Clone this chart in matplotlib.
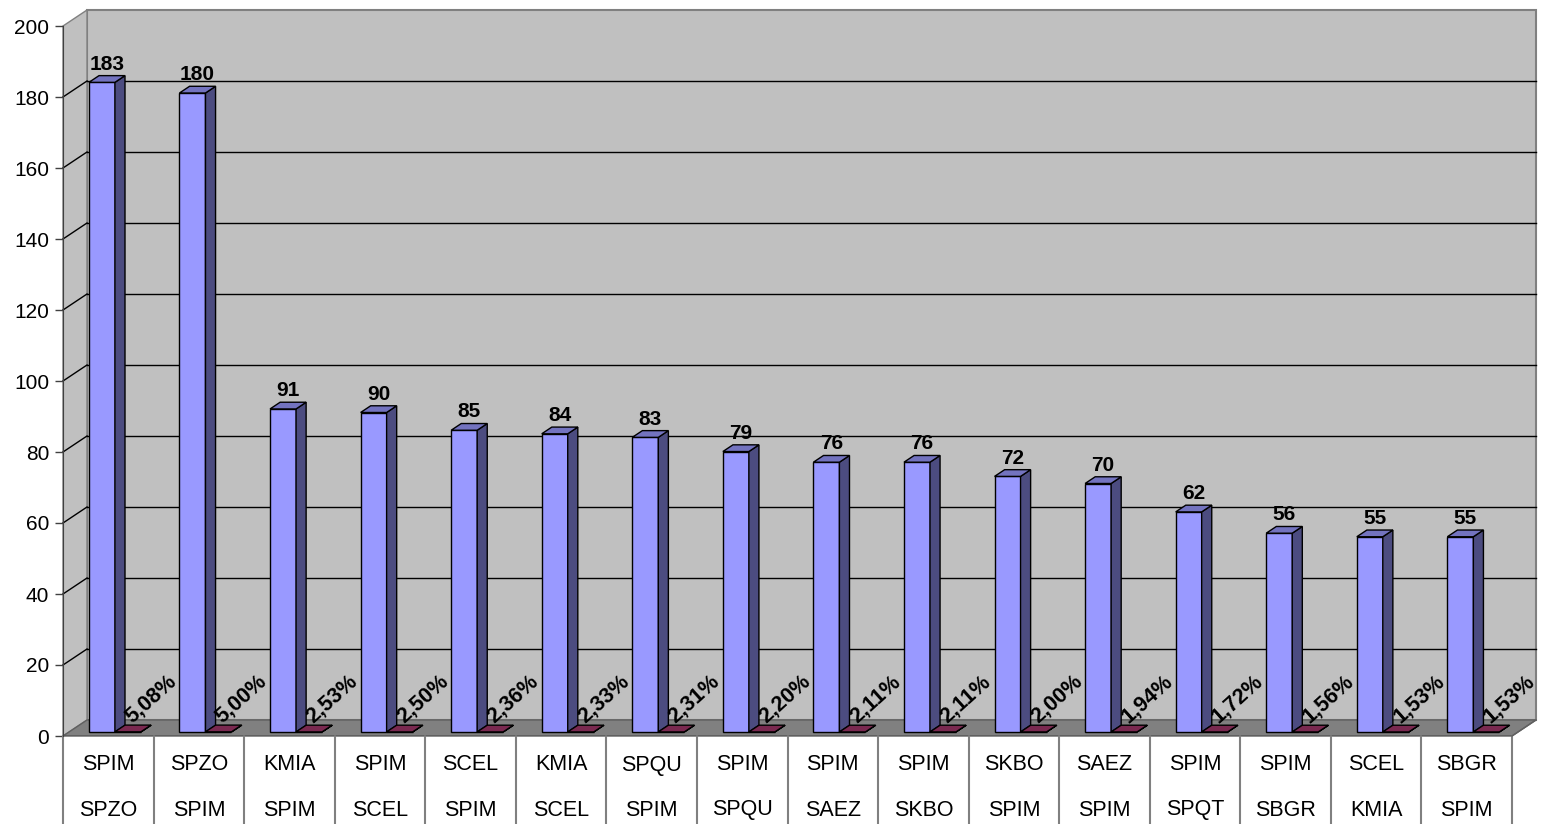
import matplotlib.pyplot as plt
from matplotlib.patches import Polygon

plt.rcParams['font.family'] = ['Liberation Sans', 'DejaVu Sans']

routes_from = ['SPIM', 'SPZO', 'KMIA', 'SPIM', 'SCEL', 'KMIA', 'SPQU', 'SPIM',
               'SPIM', 'SPIM', 'SKBO', 'SAEZ', 'SPIM', 'SPIM', 'SCEL', 'SBGR']
routes_to = ['SPZO', 'SPIM', 'SPIM', 'SCEL', 'SPIM', 'SCEL', 'SPIM', 'SPQU',
             'SAEZ', 'SKBO', 'SPIM', 'SPIM', 'SPQT', 'SBGR', 'KMIA', 'SPIM']
flights = [183, 180, 91, 90, 85, 84, 83, 79, 76, 76, 72, 70, 62, 56, 55, 55]
share_pct = [5.08, 5.00, 2.53, 2.50, 2.36, 2.33, 2.31, 2.20,
             2.11, 2.11, 2.00, 1.94, 1.72, 1.56, 1.53, 1.53]
yticks = list(range(0, 201, 20))

W, H = 1541, 824
fig = plt.figure(figsize=(W / 100, H / 100), dpi=100)
x0, x1, y0, y1 = 63, 1512, 736, 26
ax = fig.add_axes([x0 / W, (H - y0) / H, (x1 - x0) / W, (y0 - y1) / H])
n = len(flights)
ax.set_xlim(0, n)
ax.set_ylim(0, 200)
ax.patch.set_visible(False)

# depth of the 3d box in data units
px_x = (x1 - x0) / n
px_y = (y0 - y1) / 200
DX = 24 / px_x
DY = 16 / px_y

# walls and floor
back = Polygon([(DX, DY), (n + DX, DY), (n + DX, 200 + DY), (DX, 200 + DY)],
               closed=True, fc='#C0C0C0', ec='#808080', lw=1.5, zorder=0, clip_on=False)
side = Polygon([(0, 0), (DX, DY), (DX, 200 + DY), (0, 200)],
               closed=True, fc='#C0C0C0', ec='#808080', lw=1, zorder=0, clip_on=False)
floor = Polygon([(0, 0), (n, 0), (n + DX, DY), (DX, DY)],
                closed=True, fc='#808080', ec='#606060', lw=1, zorder=1.5, clip_on=False)
for p in (back, side, floor):
    ax.add_patch(p)
for v in yticks[1:-1]:
    ax.plot([DX, n + DX], [v + DY, v + DY], color='black', lw=1, zorder=1, clip_on=False)
    ax.plot([0, DX], [v, v + DY], color='black', lw=1, zorder=1, clip_on=False)

# bars
f0, f1 = 0.25, 0.67
dd = f1 - f0
bw = 0.287
base = f0 * DY


def bar3d(xl, val, front, sidec, top, z):
    xl = xl + f0 * DX
    xr = xl + bw
    ax.bar(xl, val, width=bw, bottom=base, align='edge', color=front,
           edgecolor='black', lw=1, zorder=z)
    t = base + val
    ax.add_patch(Polygon([(xr, base), (xr, t), (xr + dd * DX, t + dd * DY),
                          (xr + dd * DX, base + dd * DY)], closed=True,
                         fc=sidec, ec='black', lw=1, zorder=z))
    ax.add_patch(Polygon([(xl, t), (xr, t), (xr + dd * DX, t + dd * DY),
                          (xl + dd * DX, t + dd * DY)], closed=True,
                         fc=top, ec='black', lw=1, zorder=z))
    return xl, t


for i in range(n):
    bx, bt = bar3d(i + 0.22, flights[i], '#9999FF', '#4C4C80', '#7373BF', 3)
    ax.text(bx + bw / 2 + dd * DX / 2, bt + dd * DY + 0.6, str(flights[i]),
            ha='center', va='bottom', fontsize=15, fontweight='bold', zorder=5)
    rv = share_pct[i] / 100
    rx, rt = bar3d(i + 0.22 + bw, rv, '#993366', '#4D1A33', '#7A2950', 3)
    ax.text(rx + 36 / px_x, rt + 9.3, f'{share_pct[i]:.2f}%'.replace('.', ','),
            ha='center', va='center', rotation=42, rotation_mode='anchor',
            fontsize=15.5, fontweight='bold', zorder=5)

# category table under the floor
for i in range(n + 1):
    ax.plot([i, i], [0, -(H - y0) / px_y], color='#808080', lw=1.5, clip_on=False, zorder=2)
ax.plot([n, n + DX], [0, DY], color='#606060', lw=1, clip_on=False, zorder=2)
for i in range(n):
    ax.text(i + 0.5, -(765 - y0) / px_y, routes_from[i], ha='center', va='center', fontsize=15.5)
    ax.text(i + 0.5, -(810 - y0) / px_y, routes_to[i], ha='center', va='center', fontsize=15.5)

# axes
for s in ('top', 'right', 'bottom'):
    ax.spines[s].set_visible(False)
ax.spines['left'].set_color('#404040')
ax.spines['left'].set_zorder(2)
ax.set_xticks([])
ax.set_yticks(yticks)
ax.tick_params(axis='y', direction='out', length=6, width=1, color='#404040',
               labelsize=15, pad=4)
ax.axhline(0, color='#404040', lw=1, zorder=2)

plt.savefig('out.png', dpi=100)
